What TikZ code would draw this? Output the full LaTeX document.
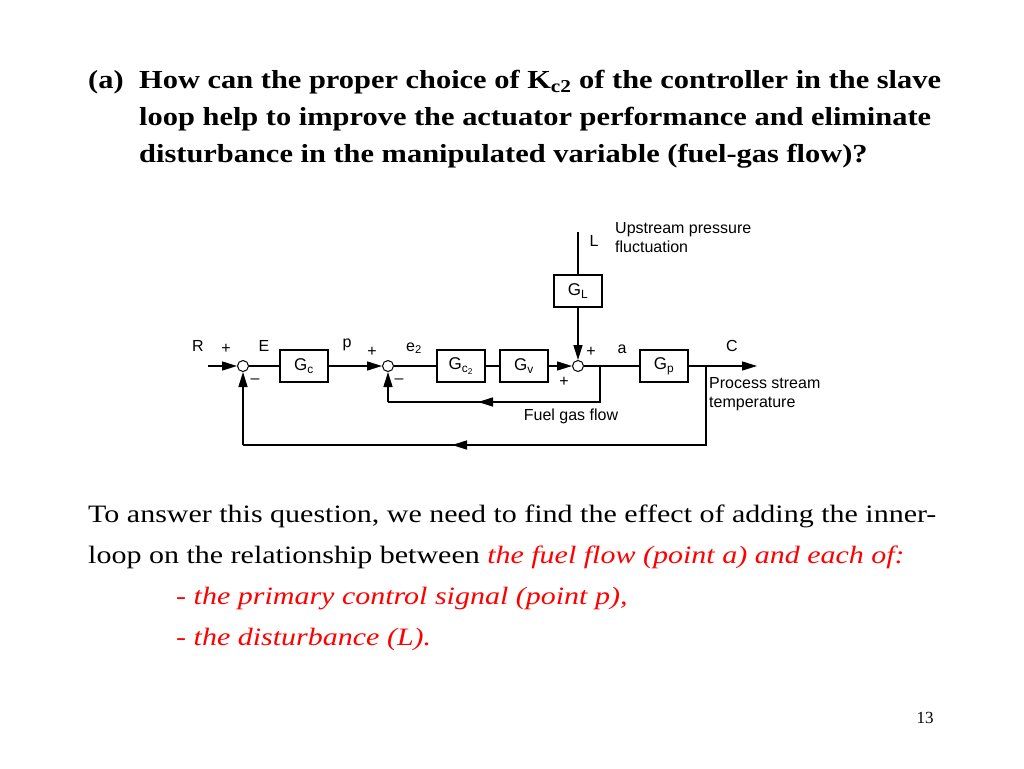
\documentclass[tikz,border=0pt]{standalone}
\usepackage{fontspec}
\setmainfont{Liberation Serif}
\newfontfamily\dsans{Liberation Sans}
\usetikzlibrary{arrows.meta}
\newcommand{\wline}[1]{\scalebox{1.2}[1]{#1}}
\newcommand{\tline}[1]{\scalebox{1.17}[1]{#1}}
\begin{document}
\begin{tikzpicture}[x=1pt,y=-1pt,
  blk/.style={draw,line width=1.3pt,minimum width=48pt,minimum height=32pt,inner sep=0pt,font=\dsans\fontsize{17}{17}\selectfont},
  sumc/.style={draw,circle,line width=1pt,minimum size=11pt,inner sep=0pt},
  ln/.style={line width=1.5pt},
  arr/.style={ln,-{Triangle[length=15pt,width=9pt]}},
  lab/.style={font=\dsans\fontsize{16}{19}\selectfont,inner sep=0pt}]
\useasboundingbox (0,0) rectangle (1024,768);
% title
\node[anchor=north west,inner sep=0pt,font=\bfseries\fontsize{26}{37}\selectfont] (qa) at (88,70) {\tline{(a)}};
\node[anchor=north west,inner sep=0pt,align=left,font=\bfseries\fontsize{26}{37}\selectfont] (qt) at (139,70)
 {\tline{How can the proper choice of K\textsubscript{c2} of the controller in the slave}\\
  \tline{loop help to improve the actuator performance and eliminate}\\
  \tline{disturbance in the manipulated variable (fuel-gas flow)?}};
% diagram
\node[sumc] (s1) at (243,366) {};
\node[blk] (gc) at (304,366) {G\textsubscript{c}};
\node[sumc] (s2) at (388,366) {};
\node[blk] (gc2) at (461,366) {G\textsubscript{c\textsubscript{2}}};
\node[blk] (gv) at (524,366) {G\textsubscript{v}};
\node[sumc] (s3) at (578,366) {};
\node[blk] (gl) at (578,291) {G\textsubscript{L}};
\node[blk] (gp) at (664,366) {G\textsubscript{p}};
\coordinate (rin) at (208,366);
\coordinate (cout) at (757,366);
\coordinate (ltop) at (578,232);
\coordinate (ba) at (600,366);
\coordinate (bc) at (706,366);
\coordinate (ib) at (600,402);
\coordinate (ob) at (706,445);
\draw[arr] (rin) -- (s1);
\draw[ln] (s1) -- (gc);
\draw[arr] (gc) -- (s2);
\draw[ln] (s2) -- (gc2);
\draw[ln] (gc2) -- (gv);
\draw[arr] (gv) -- (s3);
\draw[ln] (ltop) -- (gl);
\draw[arr] (gl) -- (s3);
\draw[ln] (s3) -- (gp);
\draw[arr] (gp) -- (cout);
\draw[ln] (ba) -- (ib) -- (388,402);
\draw[arr] (388,402) -- (s2);
\draw[arr] (ib) -- (478,402);
\draw[ln] (bc) -- (ob) -- (243,445);
\draw[arr] (243,445) -- (s1);
\draw[arr] (ob) -- (452,445);
% labels
\node[lab] (lR) at (198,346) {R};
\node[lab] (lp1) at (226,349) {+};
\node[lab] (lE) at (264,346) {E};
\node[lab] (lm1) at (255,381) {–};
\node[lab] (lp) at (347,345) {p};
\node[lab] (lp2) at (372,352) {+};
\node[lab] (le2) at (414,348) {e\textsubscript{2}};
\node[lab] (lm2) at (399,381) {–};
\node[lab] (lp3) at (591,352) {+};
\node[lab] (lp4) at (564,382) {+};
\node[lab] (la) at (622,349) {a};
\node[lab] (lC) at (732,346) {C};
\node[lab] (lL) at (594,241) {L};
\node[lab,anchor=north west,align=left] (up) at (615,222) {Upstream pressure\\fluctuation};
\node[lab,anchor=north west,align=left] (ps) at (709,377) {Process stream\\temperature};
\node[lab] (fg) at (571,416) {Fuel gas flow};
% body
\node[anchor=north west,inner sep=0pt,font=\fontsize{25}{41}\selectfont,align=left] (body) at (88,505)
 {\wline{To answer this question, we need to find the effect of adding the inner-}\\
  \wline{loop on the relationship between \textcolor{red}{\itshape the fuel flow (point a) and each of:}}};
\node[anchor=north west,inner sep=0pt,font=\itshape\fontsize{25}{41}\selectfont,align=left,text=red] (b2) at (176,587)
 {\wline{- the primary control signal (point p),}\\\wline{- the disturbance (L).}};
\node[font=\fontsize{17}{17}\selectfont] (pg) at (925,718) {13};
\end{tikzpicture}
\end{document}
